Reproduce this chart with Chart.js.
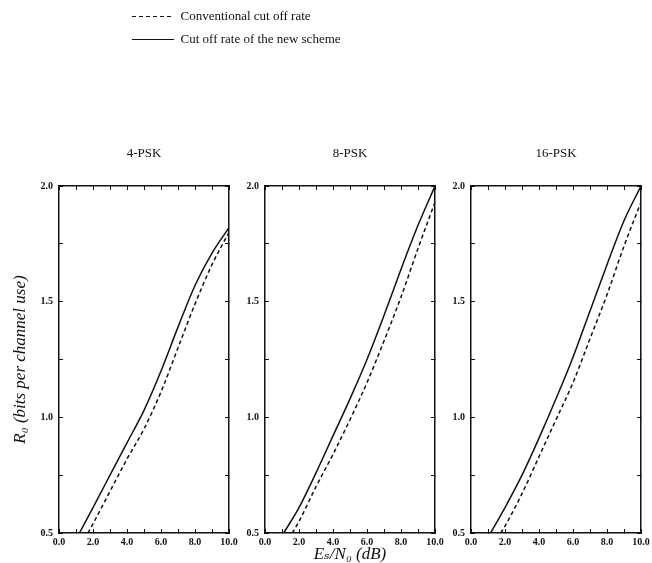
<!DOCTYPE html>
<html>
<head>
<meta charset="utf-8">
<title>Cut off rate R0 versus Es/N0</title>
<script src="https://cdn.jsdelivr.net/npm/chart.js@4.4.1/dist/chart.umd.min.js"></script>
<style>
	html, body { margin: 0; padding: 0; background: #fff; }
	#figure { position: relative; width: 652px; height: 563px; }
	#figure canvas { position: absolute; left: 0; top: 0; }
</style>
</head>
<body>
<div id="figure">
	<canvas id="chart-4psk" width="652" height="563"></canvas>
	<canvas id="chart-8psk" width="652" height="563"></canvas>
	<canvas id="chart-16psk" width="652" height="563"></canvas>
</div>
<script>
//---------------------------------------------------------
// Data
//---------------------------------------------------------
const PANEL_TITLES = ["4-PSK", "8-PSK", "16-PSK"];
const SERIES_LABELS = ["Conventional cut off rate", "Cut off rate of the new scheme"];
const X_TITLE = "Eₛ/N₀ (dB)";
const Y_TITLE = "R₀ (bits per channel use)";

// 4-PSK
const SNR_4PSK_CONV = [1.7, 2, 3, 4, 5, 6, 7, 8, 9, 10];
const R0_4PSK_CONV = [0.5, 0.54, 0.68, 0.82, 0.95, 1.11, 1.30, 1.49, 1.66, 1.80];
const SNR_4PSK_NEW = [1.2, 2, 3, 4, 5, 6, 7, 8, 9, 10];
const R0_4PSK_NEW = [0.5, 0.61, 0.75, 0.89, 1.03, 1.20, 1.39, 1.57, 1.71, 1.82];

// 8-PSK
const SNR_8PSK_CONV = [1.6, 2, 3, 4, 5, 6, 7, 8, 9, 10];
const R0_8PSK_CONV = [0.5, 0.55, 0.70, 0.84, 0.99, 1.15, 1.33, 1.52, 1.73, 1.93];
const SNR_8PSK_NEW = [1.1, 2, 3, 4, 5, 6, 7, 8, 9, 10];
const R0_8PSK_NEW = [0.5, 0.61, 0.76, 0.92, 1.08, 1.25, 1.44, 1.64, 1.83, 2.0];

// 16-PSK
const SNR_16PSK_CONV = [1.75, 2, 3, 4, 5, 6, 7, 8, 9, 10];
const R0_16PSK_CONV = [0.5, 0.53, 0.67, 0.83, 0.99, 1.15, 1.34, 1.53, 1.74, 1.93];
const SNR_16PSK_NEW = [1.15, 2, 3, 4, 5, 6, 7, 8, 9, 10];
const R0_16PSK_NEW = [0.5, 0.61, 0.75, 0.91, 1.08, 1.26, 1.46, 1.66, 1.85, 2.0];

//---------------------------------------------------------
// Look
//---------------------------------------------------------
const INK = "#111";
const SERIF = "'Liberation Serif', 'DejaVu Serif', serif";
const TICK_FONT = { family: SERIF, size: 10, weight: "bold" };

// plot frames in page pixels
const PAGE_W = 652;
const FRAME_W = 170;
const PANEL_LEFT = [59, 265, 471];
const LEGEND_LEFT = 122;
const LEGEND_H = 56; // two rows of 13px text + padding

const TICK_GRID = { drawOnChartArea: false, drawTicks: true, tickLength: -4, color: INK, lineWidth: 1 };
const FRAME_BORDER = { display: true, color: INK, width: 1.5 };

const fixWidth = (w) => (scale) => {
	scale.width = w;
	scale.paddingTop = 0;
	scale.paddingBottom = 0;
};
const fixHeight = (h) => (scale) => {
	scale.height = h;
	scale.paddingLeft = 0;
	scale.paddingRight = 0;
};

const curve = (label, xs, ys, dashed) => ({
	label,
	data: xs.map((x, i) => ({ x, y: ys[i] })),
	borderColor: INK,
	backgroundColor: INK,
	borderWidth: 1.5,
	borderDash: dashed ? [4, 3] : [],
	pointRadius: 0,
	cubicInterpolationMode: "monotone",
	fill: false,
	xAxisID: "x",
	yAxisID: "y",
});

// legend samples: keep the dataset's dash (point styles drop it)
const legendLabels = (chart) =>
	Chart.defaults.plugins.legend.labels.generateLabels(chart).map((item) => {
		const ds = chart.data.datasets[item.datasetIndex];
		return { ...item, lineDash: ds.borderDash, lineWidth: 1.2, strokeStyle: ds.borderColor };
	});

//---------------------------------------------------------
// Panel config
//---------------------------------------------------------
const panelConfig = (idx, conv, neu, opts) => {
	const left = PANEL_LEFT[idx];
	const padLeft = opts.legend ? LEGEND_LEFT : 0;

	return {
		type: "line",
		data: {
			datasets: [
				curve(SERIES_LABELS[0], conv[0], conv[1], true),
				curve(SERIES_LABELS[1], neu[0], neu[1], false),
			],
		},
		options: {
			responsive: false,
			animation: false,
			events: [],
			layout: {
				autoPadding: false,
				padding: {
					left: padLeft,
					right: PAGE_W - left - FRAME_W,
					top: opts.legend ? 0 : LEGEND_H,
					bottom: -2,
				},
			},
			scales: {
				x: {
					type: "linear",
					position: "bottom",
					min: 0,
					max: 10,
					border: FRAME_BORDER,
					grid: TICK_GRID,
					ticks: {
						stepSize: 1,
						padding: 7,
						maxRotation: 0,
						autoSkip: false,
						color: INK,
						font: TICK_FONT,
						callback: (v) => (v % 2 === 0 ? v.toFixed(1) : ""),
					},
					title: {
						display: !!opts.xTitle,
						text: X_TITLE,
						color: INK,
						font: { family: SERIF, size: 17, style: "italic" },
						padding: { top: 0, bottom: 0 },
					},
					afterFit: fixHeight(32),
				},
				x2: {
					type: "linear",
					position: "top",
					min: 0,
					max: 10,
					border: FRAME_BORDER,
					grid: TICK_GRID,
					ticks: { display: false, stepSize: 1 },
					afterFit: fixHeight(0),
				},
				y: {
					position: "left",
					min: 0.5,
					max: 2.0,
					border: FRAME_BORDER,
					grid: TICK_GRID,
					ticks: {
						stepSize: 0.25,
						padding: 10,
						autoSkip: false,
						color: INK,
						font: TICK_FONT,
						callback: (v) => (Number.isInteger(v * 2) ? v.toFixed(1) : ""),
					},
					title: {
						display: !!opts.yTitle,
						text: Y_TITLE,
						color: INK,
						font: { family: SERIF, size: 17, style: "italic" },
						padding: { top: 10, bottom: 0 },
					},
					afterFit: fixWidth(left - padLeft),
				},
				y2: {
					position: "right",
					min: 0.5,
					max: 2.0,
					border: FRAME_BORDER,
					grid: TICK_GRID,
					ticks: { display: false, stepSize: 0.25 },
					afterFit: fixWidth(0),
				},
			},
			plugins: {
				legend: {
					display: !!opts.legend,
					position: "top",
					align: "start",
					weight: 3000,
					labels: {
						usePointStyle: true,
						pointStyle: "line",
						pointStyleWidth: 42,
						padding: 10,
						color: INK,
						font: { family: SERIF, size: 13 },
						generateLabels: legendLabels,
					},
				},
				title: {
					display: true,
					text: PANEL_TITLES[idx],
					fullSize: false,
					color: INK,
					font: { family: SERIF, size: 13, weight: "normal" },
					padding: { top: 90, bottom: 24.4 },
				},
				tooltip: { enabled: false },
			},
		},
	};
};

//---------------------------------------------------------
// Chart init
//---------------------------------------------------------
new Chart(document.getElementById("chart-4psk"),
	panelConfig(0, [SNR_4PSK_CONV, R0_4PSK_CONV], [SNR_4PSK_NEW, R0_4PSK_NEW], { yTitle: true }));
new Chart(document.getElementById("chart-8psk"),
	panelConfig(1, [SNR_8PSK_CONV, R0_8PSK_CONV], [SNR_8PSK_NEW, R0_8PSK_NEW], { legend: true, xTitle: true }));
new Chart(document.getElementById("chart-16psk"),
	panelConfig(2, [SNR_16PSK_CONV, R0_16PSK_CONV], [SNR_16PSK_NEW, R0_16PSK_NEW], {}));
</script>
</body>
</html>
